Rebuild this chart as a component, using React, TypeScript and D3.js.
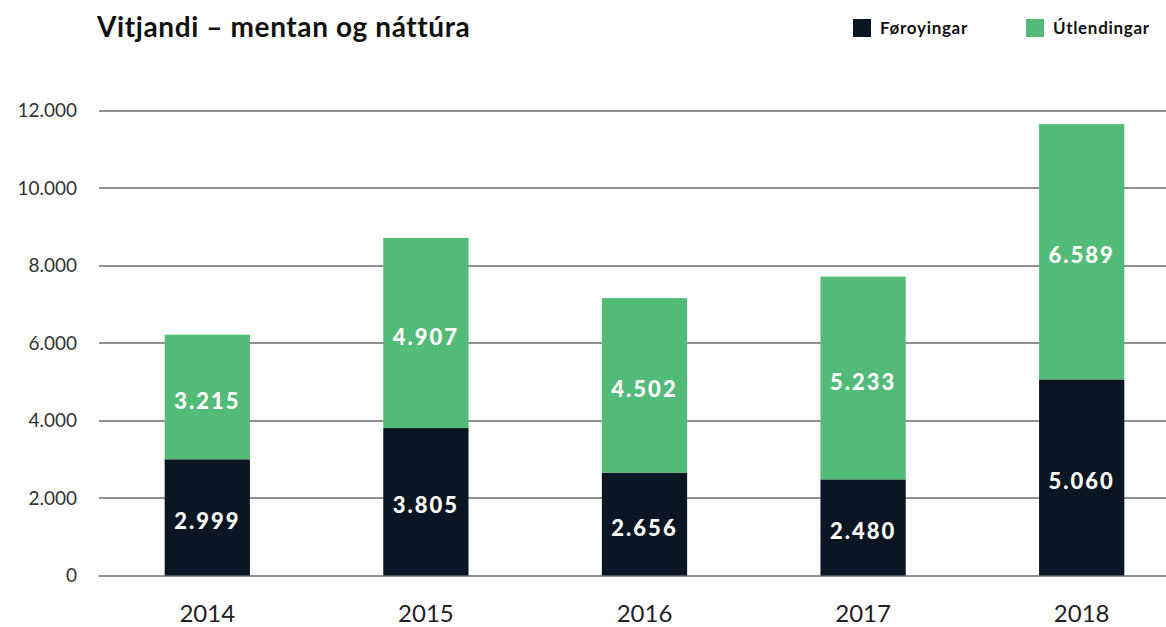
import React from "react";
import * as d3 from "d3";

const years = ["2014", "2015", "2016", "2017", "2018"];
const foroyingar = [2999, 3805, 2656, 2480, 5060];
const utlendingar = [3215, 4907, 4502, 5233, 6589];
const yTicks = [0, 2000, 4000, 6000, 8000, 10000, 12000];
const seriesNames = ["Føroyingar", "Útlendingar"];
const colors = ["#0b1622", "#52bb78"];

const W = 1166;
const H = 627;
const FONT = "Lato, 'Open Sans', sans-serif";

const fmt = (v: number) => {
  const s = String(v);
  return s.length > 3 ? s.slice(0, s.length - 3) + "." + s.slice(s.length - 3) : s;
};

export default function App() {
  const x = d3
    .scaleBand<string>()
    .domain(years)
    .range([98, 1191])
    .paddingInner(0.61)
    .paddingOuter(0.305);
  const y = d3.scaleLinear().domain([0, 12000]).range([575.5, 110.5]);

  const stacked = years.map((yr, i) => ({
    yr,
    segs: [
      { v: foroyingar[i], y0: 0, y1: foroyingar[i], c: colors[0] },
      { v: utlendingar[i], y0: foroyingar[i], y1: foroyingar[i] + utlendingar[i], c: colors[1] },
    ],
  }));

  return (
    <svg width={W} height={H} style={{ position: "absolute", left: 0, top: 0, background: "#fff" }}>
      <rect x={0} y={0} width={W} height={H} fill="#fff" />
      <text x={97} y={37} fontFamily={FONT} fontWeight={700} fontSize={28} letterSpacing={0.6} fill="#111">
        Vitjandi – mentan og náttúra
      </text>
      {seriesNames.map((n, i) => {
        const lx = i === 0 ? 853 : 1026;
        return (
          <g key={n}>
            <rect x={lx} y={19} width={18} height={18} fill={colors[i]} />
            <text x={lx + 27} y={34} fontFamily={FONT} fontWeight={700} fontSize={17} letterSpacing={0.7} fill="#111">
              {n}
            </text>
          </g>
        );
      })}
      {yTicks.map((t) => (
        <g key={t}>
          <line x1={99} x2={1166} y1={Math.round(y(t))} y2={Math.round(y(t))} stroke="#222" strokeWidth={1.2} />
          <text
            x={77}
            y={y(t)}
            dy="0.35em"
            textAnchor="end"
            fontFamily={FONT}
            fontSize={19}
            fill="#333"
          >
            {fmt(t)}
          </text>
        </g>
      ))}
      {stacked.map((d) => (
        <g key={d.yr}>
          {d.segs.map((s, j) => (
            <rect
              key={j}
              x={x(d.yr)}
              y={y(s.y1)}
              width={x.bandwidth()}
              height={y(s.y0) - y(s.y1)}
              fill={s.c}
            />
          ))}
          {d.segs.map((s, j) => (
            <text
              key={"t" + j}
              x={(x(d.yr) as number) + x.bandwidth() / 2}
              y={(y(s.y0) + y(s.y1)) / 2 + 4}
              dy="0.35em"
              textAnchor="middle"
              fontFamily={FONT}
              fontWeight={900}
              fontSize={22}
              letterSpacing={2}
              fill="#fff"
            >
              {fmt(s.v)}
            </text>
          ))}
          <text
            x={(x(d.yr) as number) + x.bandwidth() / 2}
            y={622}
            textAnchor="middle"
            fontFamily={FONT}
            fontSize={24}
            fill="#222"
          >
            {d.yr}
          </text>
        </g>
      ))}
    </svg>
  );
}
